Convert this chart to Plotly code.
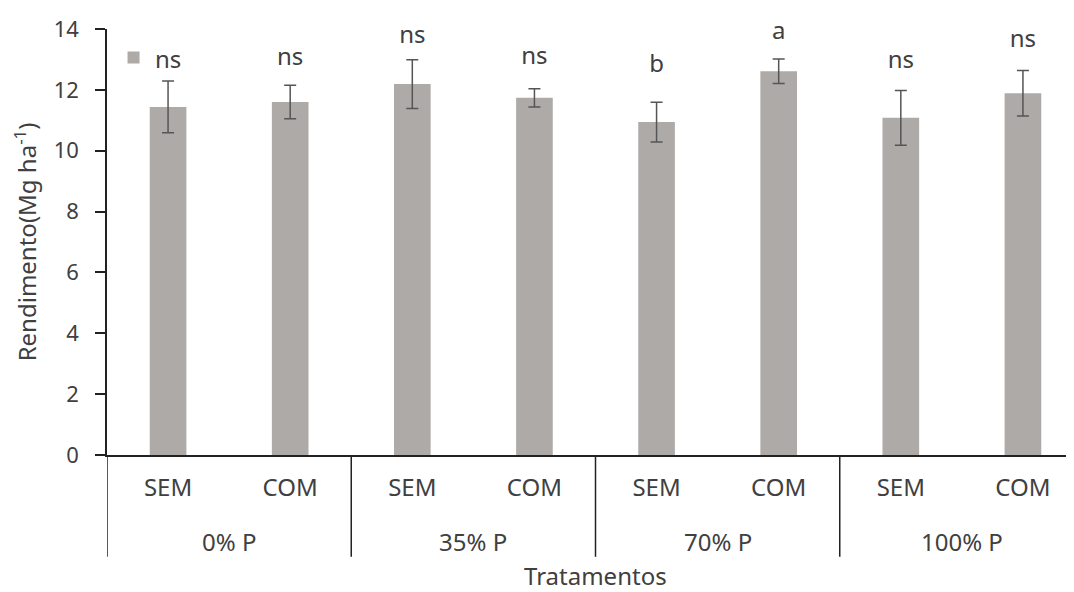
import plotly.graph_objects as go

group_names = ["0% P", "35% P", "70% P", "100% P"]
subs = ["SEM", "COM", "SEM", "COM", "SEM", "COM", "SEM", "COM"]
values = [11.44, 11.60, 12.19, 11.74, 10.94, 12.61, 11.08, 11.89]
errors = [0.85, 0.55, 0.80, 0.30, 0.65, 0.40, 0.90, 0.75]
sig_labels = ["ns", "ns", "ns", "ns", "b", "a", "ns", "ns"]
label_y = [12.92, 13.02, 13.74, 13.05, 12.79, 13.87, 12.92, 13.60]
y_ticks = [0, 2, 4, 6, 8, 10, 12, 14]

FONT = "Noto Sans"
TXT = "#404040"
LINE = "#222"

n_per_group = 2
xpos = list(range(len(subs)))

fig = go.Figure()
fig.add_trace(go.Bar(
    x=xpos, y=values, name=" ",
    marker=dict(color="#aeaaa8", line=dict(width=0)),
    width=0.3,
    error_y=dict(type="data", array=errors, visible=True,
                 color="#555555", thickness=1.5, width=6),
    showlegend=True,
))
fig.add_trace(go.Scatter(
    x=xpos, y=label_y, text=sig_labels, mode="text",
    textfont=dict(family=FONT, size=24, color=TXT),
    showlegend=False, hoverinfo="skip", cliponaxis=False,
))

# group dividers and group labels below the axis
for k in range(len(group_names) + 1):
    xb = k * n_per_group - 0.5
    fig.add_shape(type="line", xref="x", yref="paper", x0=xb, x1=xb,
                  y0=0, y1=-0.239, line=dict(color=LINE, width=1.5))
for k, g in enumerate(group_names):
    fig.add_annotation(x=k * n_per_group + (n_per_group - 1) / 2, xref="x",
                       y=-0.202, yref="paper", yanchor="middle",
                       text=g, showarrow=False,
                       font=dict(family=FONT, size=24, color=TXT))
fig.add_annotation(x=0.5, xref="paper", y=-0.284, yref="paper", yanchor="middle",
                   text="Tratamentos", showarrow=False,
                   font=dict(family=FONT, size=24, color=TXT))

fig.update_layout(
    width=1076, height=592,
    margin=dict(l=99, r=0, t=21, b=145),
    plot_bgcolor="white", paper_bgcolor="white",
    font=dict(family=FONT, size=22, color=TXT),
    legend=dict(x=0.0067, y=0.932, xanchor="left", yanchor="middle",
                bgcolor="rgba(0,0,0,0)", font=dict(size=14)),
    showlegend=True,
)
fig.update_yaxes(
    range=[0, 14], tickvals=y_ticks, showgrid=False, zeroline=False,
    showline=True, linecolor=LINE, linewidth=1.5,
    ticks="outside", ticklen=10, tickcolor=LINE, tickwidth=1.5,
    ticklabelstandoff=12,
    tickfont=dict(size=22, color=TXT),
    title=dict(text="Rendimento(Mg ha<sup>-1</sup>)", font=dict(size=24, color=TXT), standoff=14),
)
fig.update_xaxes(
    range=[-0.5, len(subs) - 0.5], showgrid=False, zeroline=False,
    showline=True, linecolor=LINE, linewidth=1.5, ticks="",
    tickvals=xpos, ticktext=subs, ticklabelstandoff=10,
    tickfont=dict(size=24, color=TXT),
)

fig.write_html("out.html")
